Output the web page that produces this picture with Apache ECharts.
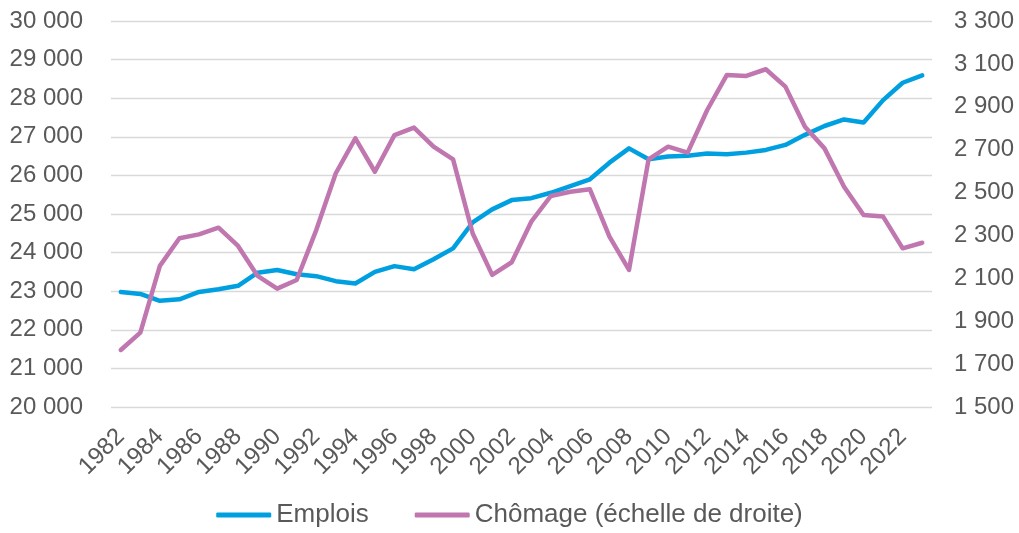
<!DOCTYPE html>
<html>
<head>
<meta charset="utf-8">
<script src="https://cdn.jsdelivr.net/npm/echarts@6/dist/echarts.min.js"></script>
<style>
  html, body { margin: 0; padding: 0; background: #fff; }
  #main { width: 1019px; height: 533px; }
</style>
</head>
<body>
<div id="main"></div>
<script>
// années 1982-2023
var years = [];
for (var y = 1982; y <= 2023; y++) { years.push(String(y)); }

// emplois (milliers) - échelle de gauche
var emplois = [
  22980, 22930, 22750, 22790, 22980, 23050, 23140, 23480, 23550, 23440,
  23390, 23260, 23200, 23500, 23650, 23570, 23830, 24110, 24780, 25120,
  25360, 25410, 25550, 25720, 25900, 26330, 26700, 26420, 26490, 26510,
  26570, 26550, 26590, 26660, 26790, 27050, 27280, 27450, 27370, 27950,
  28400, 28590
];

// chômage (milliers) - échelle de droite
var chomage = [
  1766, 1847, 2158, 2287, 2305, 2336, 2251, 2111, 2052, 2092,
  2325, 2590, 2753, 2597, 2768, 2803, 2714, 2655, 2310, 2116,
  2175, 2364, 2484, 2504, 2515, 2294, 2139, 2655, 2714, 2686,
  2885, 3048, 3044, 3075, 2994, 2807, 2706, 2527, 2395, 2388,
  2240, 2266
];

var txtColor = '#595959';
var font = 'Liberation Sans, Arial, sans-serif';

// séparateur des milliers
function fmt(v) {
  return String(v).replace(/\B(?=(\d{3})+(?!\d))/g, ' ');
}

var chart = echarts.init(document.getElementById('main'));
var option = {
  backgroundColor: '#ffffff',
  animation: false,
  textStyle: { fontFamily: font },
  grid: { left: 111, right: 87, top: 21, bottom: 126 },
  legend: {
    bottom: 0,
    left: 'center',
    icon: 'roundRect',
    itemWidth: 55,
    itemHeight: 5,
    itemGap: 46,
    textStyle: { color: txtColor, fontSize: 26, fontFamily: font },
    data: ['Emplois', 'Chômage (échelle de droite)']
  },
  xAxis: {
    type: 'category',
    data: years,
    boundaryGap: true,
    axisLine: { show: false },
    axisTick: { show: false },
    axisLabel: {
      interval: 1,
      rotate: 45,
      margin: 26,
      color: txtColor,
      fontSize: 24,
      fontFamily: font
    }
  },
  yAxis: [{
    type: 'value',
    min: 20000,
    max: 30000,
    interval: 1000,
    axisLine: { show: false },
    axisTick: { show: false },
    axisLabel: { color: txtColor, fontSize: 24, fontFamily: font, margin: 28, formatter: fmt },
    splitLine: { lineStyle: { color: '#d9d9d9', width: 1.3 } }
  }, {
    type: 'value',
    min: 1500,
    max: 3300,
    interval: 200,
    axisLine: { show: false },
    axisTick: { show: false },
    axisLabel: { color: txtColor, fontSize: 24, fontFamily: font, margin: 22, formatter: fmt },
    splitLine: { show: false }
  }],
  series: [{
    name: 'Emplois',
    type: 'line',
    yAxisIndex: 0,
    data: emplois,
    showSymbol: false,
    symbol: 'none',
    itemStyle: { color: '#00a0e0' },
    lineStyle: { color: '#00a0e0', width: 4.5, cap: 'round', join: 'round' }
  }, {
    name: 'Chômage (échelle de droite)',
    type: 'line',
    yAxisIndex: 1,
    data: chomage,
    showSymbol: false,
    symbol: 'none',
    itemStyle: { color: '#c077b0' },
    lineStyle: { color: '#c077b0', width: 4.5, cap: 'round', join: 'round' }
  }]
};
chart.setOption(option);
</script>
</body>
</html>
